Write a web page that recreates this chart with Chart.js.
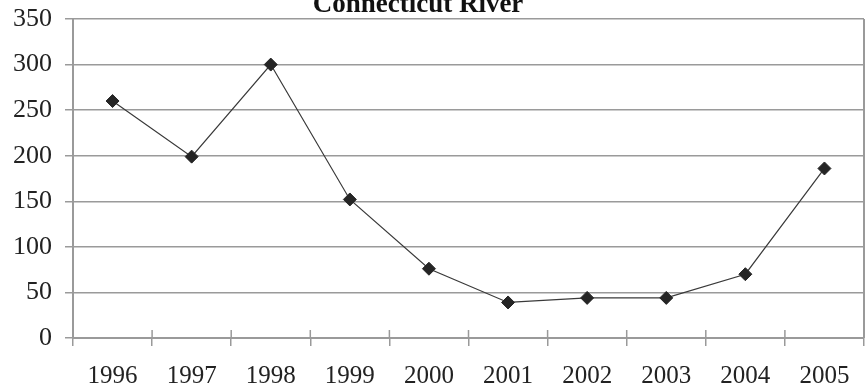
<!DOCTYPE html>
<html>
<head>
<meta charset="utf-8">
<script src="https://cdn.jsdelivr.net/npm/chart.js@4.4.1/dist/chart.umd.min.js"></script>
<style>
    html, body { margin: 0; padding: 0; background: #fff; }
    #wrap { width: 866px; height: 389px; }
</style>
</head>
<body>
<div id="wrap"><canvas id="riverChart"></canvas></div>
<script>
const titleText = 'Connecticut River';
const years = ['1996', '1997', '1998', '1999', '2000', '2001', '2002', '2003', '2004', '2005'];
const counts = [260, 199, 300, 152, 76, 39, 44, 44, 70, 186];
const yTicks = [0, 50, 100, 150, 200, 250, 300, 350];

const gridGray = '#9a9a9a';

Chart.defaults.font.family = "'Liberation Serif', 'Times New Roman', serif";
Chart.defaults.font.size = 25;
Chart.defaults.color = '#222';

// title sits half off the top of the picture, and the plot has a frame on the right
const framePlugin = {
    id: 'frame',
    afterDraw(chart) {
        const { ctx, chartArea } = chart;
        ctx.save();
        ctx.strokeStyle = gridGray;
        ctx.lineWidth = 2;
        ctx.beginPath();
        ctx.moveTo(chartArea.right, chartArea.top);
        ctx.lineTo(chartArea.right, chartArea.bottom);
        ctx.stroke();

        // x tick marks cross the axis
        const xs = chart.scales.x;
        ctx.lineWidth = 1.5;
        ctx.beginPath();
        for (let i = 1; i < years.length; i++) {
            const px = (xs.getPixelForValue(i - 1) + xs.getPixelForValue(i)) / 2;
            ctx.moveTo(px, chartArea.bottom - 8);
            ctx.lineTo(px, chartArea.bottom);
        }
        ctx.stroke();

        ctx.fillStyle = '#111';
        ctx.font = "bold 27px 'Liberation Serif', 'Times New Roman', serif";
        ctx.textAlign = 'center';
        ctx.textBaseline = 'alphabetic';
        ctx.fillText(titleText, 418, 12);
        ctx.restore();
    }
};

new Chart(document.getElementById('riverChart'), {
    type: 'line',
    data: {
        labels: years,
        datasets: [{
            label: titleText,
            data: counts,
            borderColor: '#3a3a3a',
            borderWidth: 1.2,
            pointStyle: 'rectRot',
            pointRadius: 6.5,
            pointBackgroundColor: '#252525',
            pointBorderColor: '#252525',
            pointBorderWidth: 1,
            tension: 0
        }]
    },
    options: {
        responsive: true,
        maintainAspectRatio: false,
        animation: false,
        layout: { autoPadding: false, padding: { top: 19, right: 2, left: 0, bottom: 0 } },
        plugins: {
            legend: { display: false },
            tooltip: { enabled: false }
        },
        scales: {
            x: {
                offset: true,
                afterFit: (scale) => {
                    scale.height = 51;
                    scale.paddingLeft = 0;
                    scale.paddingRight = 0;
                },
                grid: {
                    offset: true,
                    drawOnChartArea: false,
                    color: gridGray,
                    lineWidth: 1.5,
                    tickLength: 8
                },
                border: { color: gridGray, width: 2 },
                ticks: { padding: 15, maxRotation: 0, autoSkip: false }
            },
            y: {
                min: 0,
                max: 350,
                afterFit: (scale) => {
                    scale.width = 73;
                    scale.paddingTop = 0;
                    scale.paddingBottom = 0;
                },
                afterBuildTicks: (scale) => {
                    scale.ticks = yTicks.map(v => ({ value: v }));
                },
                grid: {
                    color: gridGray,
                    lineWidth: 1.5,
                    tickLength: 8
                },
                border: { color: gridGray, width: 2 },
                ticks: { padding: 13, font: { size: 26 } }
            }
        }
    },
    plugins: [framePlugin]
});
</script>
</body>
</html>
